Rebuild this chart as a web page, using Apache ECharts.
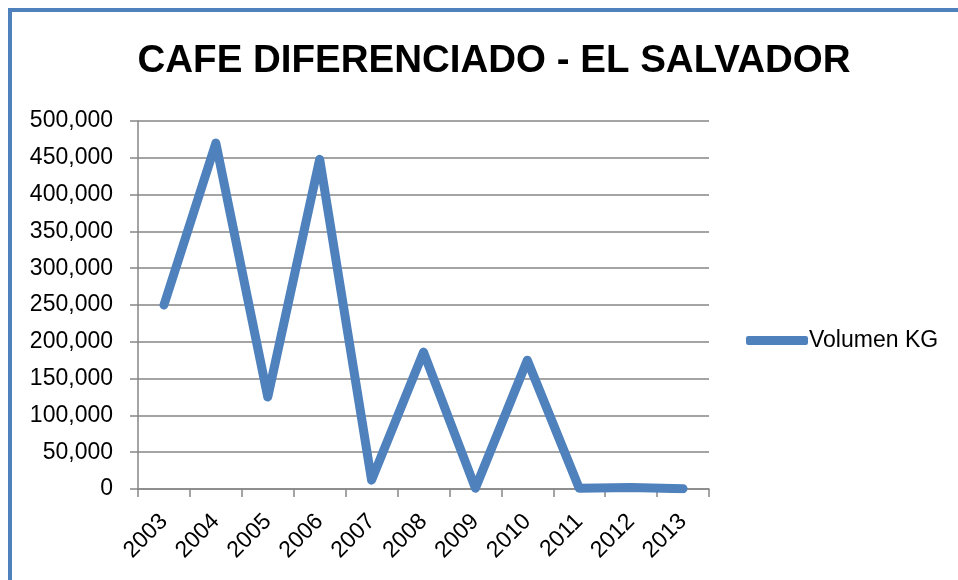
<!DOCTYPE html>
<html>
<head>
<meta charset="utf-8">
<script src="https://cdn.jsdelivr.net/npm/echarts@6/dist/echarts.min.js"></script>
<style>
  html, body { margin: 0; padding: 0; background: #fff; }
  #frame { position: absolute; left: 8px; top: 8px; width: 960px; height: 580px; border: 4px solid #4F81BD; box-sizing: border-box; }
  #chart { position: absolute; left: 0; top: 0; width: 958px; height: 580px; }
</style>
</head>
<body>
<div id="frame"></div>
<div id="chart"></div>
<script>
const years = ["2003", "2004", "2005", "2006", "2007", "2008", "2009", "2010", "2011", "2012", "2013"];
const volumenKg = [250000, 470000, 125000, 448000, 12000, 186000, 1000, 175000, 1000, 2000, 500];
const yTicks = [0, 50000, 100000, 150000, 200000, 250000, 300000, 350000, 400000, 450000, 500000];

const chart = echarts.init(document.getElementById("chart"));
const font = "'Liberation Sans', Arial, sans-serif";
const option = {
  animation: false,
  title: {
    text: "CAFE DIFERENCIADO - EL SALVADOR",
    left: 489,
    textAlign: "center",
    top: 37,
    textStyle: { fontFamily: font, fontWeight: "bold", fontSize: 38.5, color: "#000" },
  },
  grid: { left: 138, top: 121, right: 249, bottom: 91 },
  legend: {
    left: 741,
    top: 324,
    icon: "roundRect",
    itemWidth: 62,
    itemHeight: 9,
    itemGap: 0,
    textStyle: { fontFamily: font, fontSize: 23, color: "#000", padding: [0, 0, 0, -4] },
    data: ["Volumen KG"],
  },
  xAxis: {
    type: "category",
    data: years,
    boundaryGap: true,
    axisLine: { lineStyle: { color: "#868686", width: 1.5 } },
    axisTick: { show: true, alignWithLabel: false, length: 8, lineStyle: { color: "#868686", width: 1.5 } },
    axisLabel: { rotate: 45, fontFamily: font, fontSize: 23, color: "#000", margin: 29, interval: 0 },
  },
  yAxis: {
    type: "value",
    min: 0,
    max: 500000,
    interval: 50000,
    axisLine: { show: true, lineStyle: { color: "#868686", width: 1.5 } },
    axisTick: { show: true, length: 8, lineStyle: { color: "#868686", width: 1.5 } },
    axisLabel: {
      fontFamily: font,
      fontSize: 23,
      color: "#000",
      margin: 25,
      formatter: function (v) {
        return yTicks.indexOf(v) >= 0 ? v.toLocaleString("en-US") : "";
      },
    },
    splitLine: { lineStyle: { color: "#868686", width: 1.5 } },
  },
  series: [
    {
      name: "Volumen KG",
      type: "line",
      data: volumenKg,
      symbol: "none",
      itemStyle: { color: "#4F81BD" },
      lineStyle: { color: "#4F81BD", width: 9, cap: "round", join: "round" },
    },
  ],
};
chart.setOption(option);
</script>
</body>
</html>
